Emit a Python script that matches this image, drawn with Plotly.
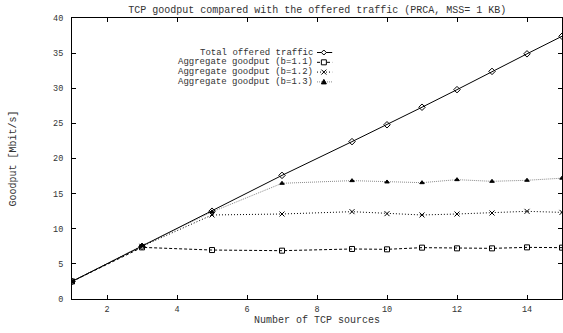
import plotly.graph_objects as go

# ---- data ----
sources = [1, 3, 5, 7, 9, 10, 11, 12, 13, 14, 15]
total_offered = [2.5, 7.5, 12.5, 17.6, 22.4, 24.8, 27.3, 29.8, 32.4, 34.9, 37.4]
goodput_b11 = [2.5, 7.35, 6.97, 6.88, 7.12, 7.07, 7.31, 7.21, 7.21, 7.35, 7.31]
goodput_b12 = [2.5, 7.5, 11.96, 12.1, 12.43, 12.15, 11.96, 12.1, 12.24, 12.48, 12.33]
goodput_b13 = [2.5, 7.6, 12.4, 16.47, 16.85, 16.66, 16.56, 16.99, 16.75, 16.9, 17.2]
series_names = ["Total offered traffic", "Aggregate goodput (b=1.1)",
                "Aggregate goodput (b=1.2)", "Aggregate goodput (b=1.3)"]
x_ticks = [2, 4, 6, 8, 10, 12, 14]
y_ticks = [0, 5, 10, 15, 20, 25, 30, 35, 40]

FONT = "Liberation Mono"
TXT = "#333333"

styles = [
    dict(dash="solid", symbol="diamond-open", lc="black", size=5),
    dict(dash="3px,2px", symbol="square-open", lc="black", size=5),
    dict(dash="1px,2px", symbol="x-thin-open", lc="black", size=5),
    dict(dash="1px,1px", symbol="triangle-up", lc="#8a8a8a", size=4),
]
series = [total_offered, goodput_b11, goodput_b12, goodput_b13]

fig = go.Figure()
# draw goodput series first, total last so it is on top
for i in [3, 2, 1, 0]:
    st = styles[i]
    fig.add_trace(go.Scatter(
        x=sources, y=series[i], mode="lines+markers", name=series_names[i],
        line=dict(color=st["lc"], width=1, dash=st["dash"]),
        marker=dict(symbol=st["symbol"], size=st["size"], color="black",
                    line=dict(color="black", width=1)),
        showlegend=False,
    ))

# ---- manual gnuplot-style legend (text right-aligned, sample on right) ----
row_y = [0.8772, 0.8423, 0.8075, 0.7726]
text_x = 0.494
s_x0, s_x1, m_x = 0.500, 0.531, 0.514
shapes = []
annotations = []
for i, name in enumerate(series_names):
    st = styles[i]
    y = row_y[i]
    annotations.append(dict(
        x=text_x, y=y, xref="paper", yref="paper", text=name, showarrow=False,
        xanchor="right", yanchor="middle", borderpad=0,
        font=dict(family=FONT, size=9, color=TXT)))
    shapes.append(dict(type="line", xref="paper", yref="paper",
                       x0=s_x0, x1=s_x1, y0=y, y1=y,
                       line=dict(color=st["lc"], width=1, dash=st["dash"])))
    if i == 0:
        path = "M 0 2.5 L 2.5 0 L 0 -2.5 L -2.5 0 Z"
        shapes.append(dict(type="path", xref="paper", yref="paper",
                           xsizemode="pixel", ysizemode="pixel",
                           xanchor=m_x, yanchor=y, path=path,
                           fillcolor="white", line=dict(color="black", width=1)))
    elif i == 1:
        shapes.append(dict(type="rect", xref="paper", yref="paper",
                           xsizemode="pixel", ysizemode="pixel",
                           xanchor=m_x, yanchor=y, x0=-2.5, x1=2.5, y0=-2.5, y1=2.5,
                           fillcolor="white", line=dict(color="black", width=1)))
    elif i == 2:
        for p in ["M -2.5 -2.5 L 2.5 2.5", "M -2.5 2.5 L 2.5 -2.5"]:
            shapes.append(dict(type="path", xref="paper", yref="paper",
                               xsizemode="pixel", ysizemode="pixel",
                               xanchor=m_x, yanchor=y, path=p,
                               line=dict(color="black", width=1)))
    else:
        shapes.append(dict(type="path", xref="paper", yref="paper",
                           xsizemode="pixel", ysizemode="pixel",
                           xanchor=m_x, yanchor=y, path="M -2.5 -2 L 2.5 -2 L 0 2.5 Z",
                           fillcolor="black", line=dict(color="black", width=1)))

axis_common = dict(
    showline=True, linecolor="black", linewidth=1, mirror="allticks",
    ticks="inside", ticklen=4, tickcolor="black", tickwidth=1,
    showgrid=False, zeroline=False,
    tickfont=dict(family=FONT, size=8.5, color=TXT),
)

fig.update_layout(
    width=563, height=333,
    margin=dict(l=72, r=1, t=18, b=34, pad=0),
    paper_bgcolor="white", plot_bgcolor="white",
    title=dict(text="TCP goodput compared with the offered traffic (PRCA, MSS= 1 KB)",
               x=0.5634, xanchor="center", y=0.970, yanchor="middle",
               font=dict(family=FONT, size=10, color=TXT)),
    xaxis=dict(range=[1, 15], tickvals=x_ticks, ticklabelstandoff=2,
               title=dict(text="Number of TCP sources", standoff=0,
                          font=dict(family=FONT, size=10, color=TXT)),
               **axis_common),
    yaxis=dict(range=[0, 40], tickvals=y_ticks, ticklabelstandoff=6,
               title=dict(text="Goodput [Mbit/s]", standoff=34,
                          font=dict(family=FONT, size=10, color=TXT)),
               **axis_common),
    shapes=shapes, annotations=annotations,
    showlegend=False,
)

fig.write_html("out.html")
